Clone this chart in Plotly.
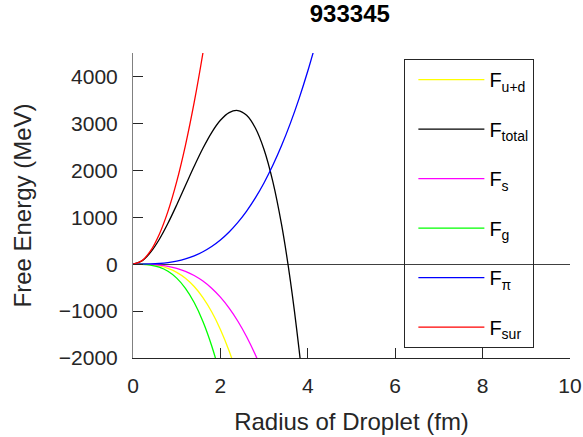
import plotly.graph_objects as go

radius = [0.0, 0.2, 0.4, 0.6, 0.8, 1.0, 1.2, 1.4, 1.6, 1.8, 2.0, 2.2, 2.4, 2.6, 2.8,
          3.0, 3.2, 3.4, 3.6, 3.8, 4.0, 4.2]

f_ud = [0, -1.4, -11.1, -37.6, -89.1, -174, -300.7, -477.5, -712.7, -1014.8, -1392,
        -1852.8, -2405.4, -3058.2]
f_total = [0, 66, 250, 526, 871, 1262, 1675, 2085, 2470, 2805, 3066, 3231, 3274, 3172,
           2901, 2438, 1759, 840, -344, -1815, -3597]
f_s = [0, -0.7, -5.6, -19.0, -45.1, -88, -152.1, -241.5, -360.4, -513.2, -704, -937.0,
       -1216.5, -1546.7, -1931.8, -2376, -2883.6]
f_g = [0, -2.4, -19.1, -64.4, -152.6, -298, -514.9, -817.7, -1220.6, -1737.9, -2384,
       -3173.1]
f_pi = [0, 0.5, 4.1, 13.9, 32.9, 64.3, 111.1, 176.4, 263.4, 375.0, 514.4, 684.7, 888.9,
        1130.1, 1411.5, 1736.1, 2107.0, 2527.3, 3000.0, 3528.3, 4115.2, 4763.9]
f_sur = [0, 70, 281, 633, 1125, 1758, 2532, 3446, 4500, 5696, 7032]

series = [
    ("F<sub>u+d</sub>", f_ud, "#ffff00"),
    ("F<sub>total</sub>", f_total, "#000000"),
    ("F<sub>s</sub>", f_s, "#ff00ff"),
    ("F<sub>g</sub>", f_g, "#00ff00"),
    ("F<sub>π</sub>", f_pi, "#0000ff"),
    ("F<sub>sur</sub>", f_sur, "#ff0000"),
]

fig = go.Figure()
for i, (name, vals, color) in enumerate(series):
    fig.add_trace(go.Scatter(
        x=radius[:len(vals)], y=vals, name=name, mode="lines",
        line=dict(color=color, width=1.3, shape="spline"),
        legendgroup="g%d" % i,
    ))

font = "Liberation Sans, Arial, sans-serif"
fig.update_layout(
    width=583, height=437,
    margin=dict(l=133, r=13.4, t=53, b=79),
    paper_bgcolor="white", plot_bgcolor="white",
    font=dict(family=font, size=21, color="#262626"),
    title=dict(text="<b>933345</b>", x=0.6, xanchor="center", y=0.988, yanchor="top",
               font=dict(size=24, color="#000000")),
    showlegend=True,
    legend=dict(
        x=0.621, y=0.98, xanchor="left", yanchor="top",
        bgcolor="rgba(0,0,0,0)", bordercolor="#262626", borderwidth=1,
        font=dict(size=20, color="#000000"),
        tracegroupgap=20.5, itemwidth=66, indentation=8,
    ),
    xaxis=dict(
        range=[0, 10], tickvals=[0, 2, 4, 6, 8, 10], ticks="inside", ticklen=10,
        showline=True, linecolor="#262626", linewidth=1, tickcolor="#262626",
        showgrid=False, zeroline=False, ticklabelstandoff=9, automargin=False,
        title=dict(text="Radius of Droplet (fm)", font=dict(size=24), standoff=16),
    ),
    yaxis=dict(
        range=[-2000, 4500], tickvals=[-2000, -1000, 0, 1000, 2000, 3000, 4000],
        ticks="inside", ticklen=10, automargin=False,
        showline=True, linecolor="#808080", linewidth=1, tickcolor="#262626",
        showgrid=False, zeroline=True, zerolinecolor="#404040", zerolinewidth=1,
        ticklabelstandoff=10,
        title=dict(text="Free Energy (MeV)", font=dict(size=24), standoff=20),
    ),
)

# remove the browser's default 8px page margin so the figure fills the window
fig.write_html(
    "out.html",
    config={"displayModeBar": False},
    post_script="document.body.style.margin='0';document.body.style.overflow='hidden';",
)
